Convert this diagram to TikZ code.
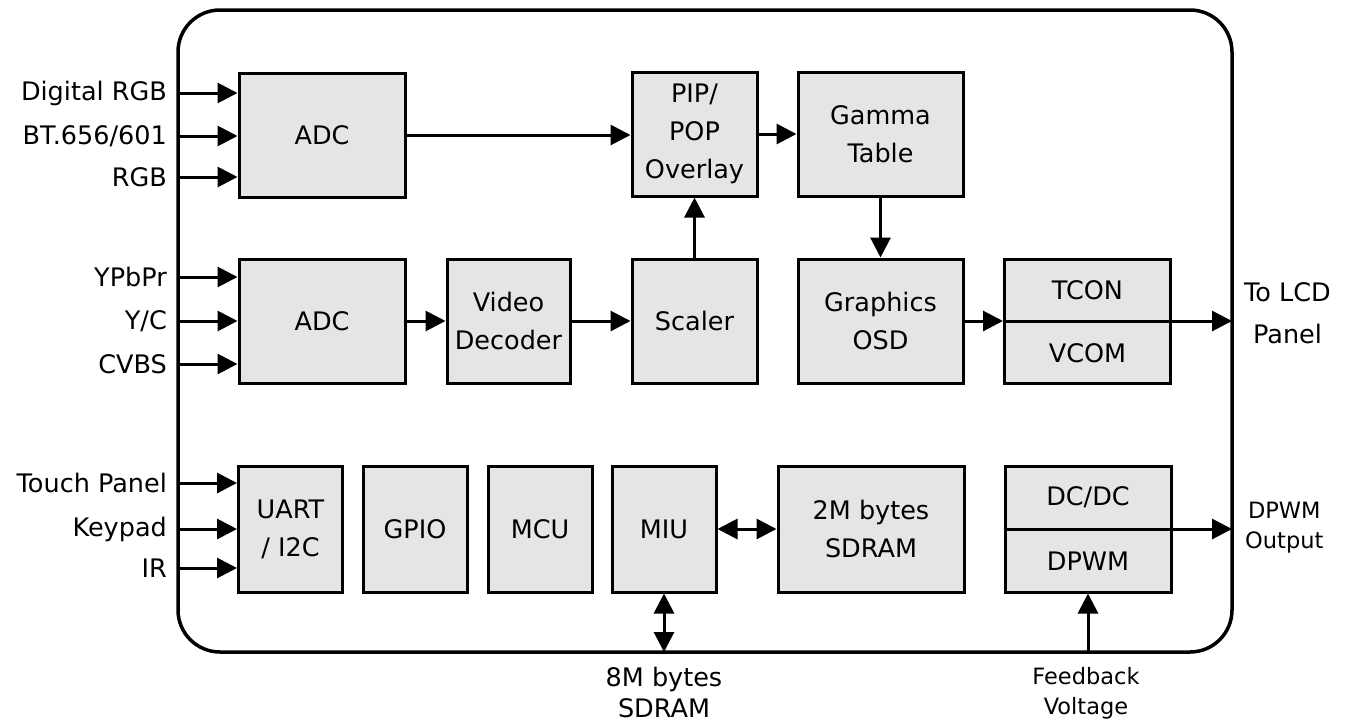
\documentclass[tikz,border=0pt]{standalone}
\usepackage{fontspec}
\setmainfont{DejaVu Sans}
\usetikzlibrary{arrows.meta}
\tikzset{
  blk/.style={draw, line width=3pt, fill=black!10, align=center, inner sep=0pt,
    font=\fontsize{25.5}{38}\selectfont},
  arr/.style={line width=3pt, -{Triangle[length=20pt,width=20pt]}},
  darr/.style={line width=3pt, {Triangle[length=20pt,width=20pt]}-{Triangle[length=20pt,width=20pt]}},
  lbl/.style={inner sep=0pt, align=center, font=\fontsize{25.5}{42}\selectfont},
  blbl/.style={inner sep=0pt, align=center, font=\fontsize{25.5}{31}\selectfont},
  slbl/.style={inner sep=0pt, align=center, font=\fontsize{22.5}{30}\selectfont},
}
\begin{document}
\begin{tikzpicture}[x=1pt,y=-1pt]
\useasboundingbox (0,0) rectangle (1353,724);
% outer chip outline
\draw[line width=3.5pt, rounded corners=42pt] (178,10) rectangle (1232,652);
% blocks
\node[blk, minimum width=166pt, minimum height=124pt] (adc1) at (322,135) {ADC};
\node[blk, minimum width=125pt, minimum height=124pt] (pip) at (694.5,134) {PIP/\\POP\\Overlay};
\node[blk, minimum width=165pt, minimum height=124pt] (gam) at (880.5,134) {Gamma\\Table};
\node[blk, minimum width=166pt, minimum height=124pt] (adc2) at (322,321) {ADC};
\node[blk, minimum width=123pt, minimum height=124pt] (vd) at (508.5,321) {Video\\Decoder};
\node[blk, minimum width=125pt, minimum height=124pt] (sc) at (694.5,321) {Scaler};
\node[blk, minimum width=165pt, minimum height=124pt] (gr) at (880.5,321) {Graphics\\OSD};
\node[blk, minimum width=166pt, minimum height=124pt] (tc) at (1087.5,321) {};
\node[lbl] (tcon) at (1087.5,290) {TCON};
\node[lbl] (vcom) at (1087.5,353) {VCOM};
\node[blk, minimum width=104pt, minimum height=126pt] (uart) at (290.5,529) {UART\\/ I2C};
\node[blk, minimum width=104pt, minimum height=126pt] (gpio) at (415,529) {GPIO};
\node[blk, minimum width=104pt, minimum height=126pt] (mcu) at (540,529) {MCU};
\node[blk, minimum width=104pt, minimum height=126pt] (miu) at (664,529) {MIU};
\node[blk, minimum width=186pt, minimum height=126pt] (sd2) at (871,529) {2M bytes\\SDRAM};
\node[blk, minimum width=166pt, minimum height=126pt] (dc) at (1088,529) {};
\node[lbl] (dcdc) at (1088,497) {DC/DC};
\node[lbl] (dpwm) at (1088,561) {DPWM};
% input coordinates and labels
\foreach \n/\y/\t/\b in {i1/93/{Digital RGB}/adc1, i2/136/{BT.656/601}/adc1, i3/177/{RGB}/adc1,
  i4/277/{YPbPr}/adc2, i5/321/{Y/C}/adc2, i6/364/{CVBS}/adc2,
  i7/483/{Touch Panel}/uart, i8/529/{Keypad}/uart, i9/568/{IR}/uart}{
  \coordinate (\n) at (178,\y);
  \node[lbl, anchor=east] (\n t) at (167,\y) {\t};
  \draw[arr] (\n) -- (\n -| \b.west);
}
% internal connections
\draw[arr] (adc1.east) -- (adc1.east -| pip.west);
\draw[arr] (pip.east) -- (gam.west);
\draw[arr] (gam.south) -- (gr.north);
\draw[arr] (sc.north) -- (pip.south);
\draw[arr] (adc2.east) -- (vd.west);
\draw[arr] (vd.east) -- (sc.west);
\draw[arr] (gr.east) -- (tc.west);
\draw[darr] (miu.east) -- (sd2.west);
% outputs
\coordinate (o1) at (1232,321);
\draw[arr] (tc.west) -- (o1);
\node[lbl, anchor=west] (o1t) at (1244,313) {To LCD\\Panel};
\coordinate (o2) at (1232,529);
\draw[arr] (dc.west) -- (o2);
\node[slbl, anchor=west] (o2t) at (1245,528) {DPWM\\Output};
% bottom
\coordinate (b1) at (664,652);
\draw[darr] (miu.south) -- (b1);
\node[blbl] (b1t) at (664,692) {8M bytes\\SDRAM};
\coordinate (b2) at (1088,652);
\draw[arr] (b2) -- (dc.south);
\node[slbl] (b2t) at (1086,693) {Feedback\\Voltage};
\end{tikzpicture}
\end{document}
